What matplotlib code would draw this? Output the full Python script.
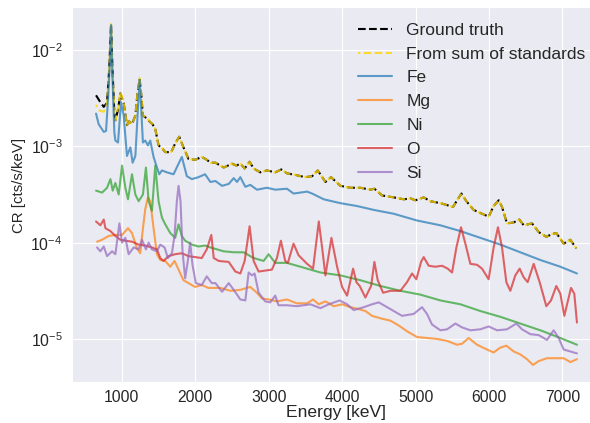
import numpy as np
import matplotlib
matplotlib.use("Agg")
import matplotlib.pyplot as plt
import seaborn as sns

# energies [keV] and log10 count rates
energy_total = [651, 700, 756, 800, 830, 855, 875, 900, 914, 950, 982, 1027, 1072, 1100, 1140,
                1186, 1215, 1244, 1265, 1289, 1343, 1389, 1420, 1457, 1502, 1550, 1593, 1674,
                1728, 1783, 1841, 1909, 2000, 2090, 2160, 2208, 2276, 2389, 2502, 2561, 2615,
                2674, 2741, 2796, 2886, 2977, 3090, 3172, 3249, 3384, 3497, 3592, 3669, 3773,
                3850, 3977, 4113, 4249, 4385, 4440, 4544, 4703, 4839, 4930, 4998, 5111, 5202,
                5338, 5429, 5510, 5565, 5624, 5692, 5791, 5905, 5995, 6063, 6132, 6177, 6245,
                6336, 6413, 6472, 6585, 6676, 6780, 6857, 6916, 7016, 7107, 7188]
truth_log10 = [-2.47, -2.53, -2.59, -2.55, -2.20, -1.73, -2.20, -2.65, -2.73, -2.62, -2.45, -2.55,
               -2.78, -2.74, -2.77, -2.68, -2.45, -2.30, -2.45, -2.68, -2.71, -2.75, -2.77, -2.82,
               -2.99, -3.02, -3.06, -3.06, -2.97, -2.90, -3.01, -3.13, -3.14, -3.11, -3.14, -3.17,
               -3.17, -3.22, -3.18, -3.20, -3.18, -3.23, -3.16, -3.23, -3.27, -3.25, -3.27, -3.24,
               -3.28, -3.30, -3.32, -3.31, -3.25, -3.37, -3.32, -3.41, -3.43, -3.43, -3.45, -3.44,
               -3.51, -3.53, -3.55, -3.54, -3.56, -3.53, -3.57, -3.59, -3.61, -3.63, -3.56, -3.49,
               -3.57, -3.66, -3.70, -3.73, -3.62, -3.56, -3.63, -3.80, -3.79, -3.76, -3.82, -3.80,
               -3.89, -3.94, -3.91, -3.90, -4.01, -3.97, -4.06]
std_sum_log10 = [-2.57, -2.63, -2.64, -2.56, -2.20, -1.73, -2.20, -2.65, -2.73, -2.60, -2.43, -2.55,
                 -2.78, -2.74, -2.77, -2.68, -2.45, -2.29, -2.45, -2.68, -2.70, -2.75, -2.77, -2.82,
                 -2.99, -3.02, -3.06, -3.06, -2.97, -2.90, -3.01, -3.13, -3.14, -3.11, -3.14, -3.17,
                 -3.17, -3.22, -3.18, -3.20, -3.18, -3.23, -3.16, -3.23, -3.27, -3.25, -3.27, -3.24,
                 -3.28, -3.30, -3.32, -3.31, -3.25, -3.37, -3.32, -3.41, -3.43, -3.43, -3.45, -3.44,
                 -3.51, -3.53, -3.55, -3.54, -3.56, -3.53, -3.57, -3.59, -3.61, -3.63, -3.56, -3.49,
                 -3.57, -3.66, -3.70, -3.73, -3.62, -3.56, -3.63, -3.80, -3.79, -3.76, -3.82, -3.80,
                 -3.89, -3.94, -3.91, -3.90, -4.01, -3.97, -4.06]

fe_energy = [651, 687, 756, 787, 815, 835, 855, 875, 900, 914, 950, 991, 1027, 1072, 1118, 1149,
             1186, 1215, 1244, 1265, 1289, 1321, 1357, 1389, 1434, 1480, 1511, 1548, 1615, 1706,
             1774, 1819, 1887, 1955, 2045, 2135, 2208, 2276, 2366, 2457, 2525, 2570, 2615, 2683,
             2751, 2841, 2977, 3090, 3249, 3339, 3433, 3524, 3592, 3751, 3977, 4204, 4431, 4703,
             5020, 5338, 5610, 5882, 6154, 6426, 6698, 6971, 7197]
fe_log10 = [-2.66, -2.77, -2.85, -2.84, -2.50, -2.20, -1.74, -2.30, -2.85, -2.94, -2.96, -2.54,
            -2.68, -3.10, -3.01, -3.17, -3.10, -2.70, -2.31, -2.60, -2.96, -2.94, -2.99, -2.94,
            -3.11, -3.22, -3.29, -3.25, -3.27, -3.29, -3.18, -3.11, -3.31, -3.34, -3.32, -3.29,
            -3.37, -3.36, -3.41, -3.39, -3.33, -3.37, -3.32, -3.42, -3.40, -3.45, -3.43, -3.45,
            -3.44, -3.49, -3.48, -3.47, -3.49, -3.55, -3.59, -3.62, -3.66, -3.70, -3.77, -3.82,
            -3.88, -3.95, -4.02, -4.10, -4.18, -4.25, -4.32]

mg_energy = [665, 733, 824, 914, 1005, 1086, 1140, 1208, 1253, 1285, 1321, 1357, 1389, 1434, 1480,
             1525, 1593, 1661, 1720, 1774, 1841, 1909, 2000, 2090, 2180, 2344, 2480, 2615, 2751,
             2841, 2909, 3000, 3113, 3249, 3384, 3524, 3605, 3683, 3773, 3887, 4000, 4113, 4227,
             4317, 4408, 4544, 4658, 4771, 4884, 5020, 5156, 5293, 5429, 5565, 5633, 5723, 5837,
             5973, 6063, 6154, 6236, 6336, 6426, 6517, 6599, 6676, 6789, 6925, 7016, 7107, 7197]
mg_log10 = [-3.99, -3.97, -3.93, -3.92, -3.92, -3.85, -3.90, -4.06, -4.11, -3.88, -3.65, -3.53,
            -3.57, -3.85, -4.12, -4.18, -4.19, -4.25, -4.19, -4.28, -4.39, -4.42, -4.46, -4.44,
            -4.47, -4.47, -4.50, -4.49, -4.46, -4.52, -4.58, -4.59, -4.61, -4.59, -4.63, -4.63,
            -4.59, -4.64, -4.61, -4.66, -4.64, -4.67, -4.69, -4.71, -4.76, -4.79, -4.81, -4.86,
            -4.92, -4.98, -4.99, -5.00, -5.02, -5.06, -5.05, -4.99, -5.06, -5.11, -5.14, -5.09,
            -5.07, -5.13, -5.16, -5.21, -5.27, -5.23, -5.20, -5.20, -5.20, -5.24, -5.21]

ni_energy = [651, 733, 801, 847, 878, 914, 959, 1005, 1050, 1086, 1140, 1186, 1231, 1289, 1330,
             1367, 1412, 1457, 1502, 1548, 1593, 1661, 1728, 1774, 1819, 1864, 1955, 2045, 2135,
             2208, 2389, 2525, 2660, 2796, 2932, 3000, 3090, 3249, 3433, 3705, 3977, 4249, 4522,
             4794, 5066, 5338, 5610, 5882, 6154, 6426, 6698, 6971, 7197]
ni_log10 = [-3.46, -3.48, -3.43, -3.34, -3.46, -3.38, -3.50, -3.20, -3.43, -3.55, -3.29, -3.50,
            -3.57, -3.50, -3.22, -3.57, -3.67, -3.20, -3.57, -3.74, -3.81, -3.90, -3.95, -3.81,
            -3.93, -3.98, -4.02, -4.04, -4.03, -4.05, -4.09, -4.10, -4.10, -4.16, -4.19, -4.12,
            -4.21, -4.21, -4.25, -4.31, -4.34, -4.39, -4.45, -4.50, -4.54, -4.60, -4.64, -4.71,
            -4.77, -4.84, -4.91, -4.99, -5.06]

o_energy = [651, 710, 756, 778, 847, 914, 982, 1050, 1140, 1231, 1321, 1412, 1480, 1525, 1570,
            1638, 1728, 1819, 1909, 2000, 2090, 2158, 2220, 2253, 2321, 2457, 2547, 2615, 2674,
            2741, 2796, 2864, 2954, 3045, 3113, 3167, 3226, 3262, 3339, 3407, 3524, 3605, 3683,
            3728, 3773, 3855, 3932, 4000, 4068, 4150, 4195, 4240, 4317, 4395, 4440, 4485, 4558,
            4658, 4794, 4884, 4952, 5011, 5075, 5111, 5179, 5270, 5361, 5438, 5497, 5556, 5619,
            5678, 5746, 5837, 5905, 5995, 6063, 6122, 6177, 6236, 6290, 6358, 6417, 6472, 6526,
            6608, 6689, 6780, 6844, 6916, 6971, 7025, 7116, 7161, 7197]
o_log10 = [-3.78, -3.82, -3.76, -3.85, -3.88, -3.93, -3.97, -3.98, -3.99, -4.02, -4.03, -4.05,
           -4.07, -4.16, -4.19, -4.14, -4.12, -4.11, -4.14, -4.15, -4.16, -4.07, -3.92, -4.16,
           -4.19, -4.20, -4.30, -4.32, -4.19, -3.83, -4.19, -4.30, -4.29, -4.28, -4.16, -3.98,
           -4.19, -4.21, -4.01, -4.13, -4.22, -4.27, -3.78, -4.05, -4.34, -3.95, -4.25, -4.46,
           -4.55, -4.27, -4.41, -4.45, -4.57, -4.45, -4.20, -4.39, -4.52, -4.50, -4.50, -4.41,
           -4.32, -4.38, -4.20, -4.15, -4.24, -4.25, -4.24, -4.27, -4.31, -4.05, -3.84, -4.01,
           -4.22, -4.23, -4.27, -4.38, -4.05, -3.84, -4.05, -4.41, -4.50, -4.34, -4.27, -4.36,
           -4.41, -4.22, -4.41, -4.66, -4.60, -4.45, -4.53, -4.76, -4.47, -4.53, -4.83]

si_energy = [665, 710, 756, 801, 869, 914, 969, 1005, 1050, 1095, 1163, 1231, 1276, 1330, 1367,
             1412, 1480, 1525, 1584, 1629, 1684, 1720, 1751, 1774, 1801, 1828, 1864, 1900, 1932,
             1964, 2009, 2090, 2158, 2226, 2276, 2366, 2457, 2525, 2615, 2683, 2728, 2773, 2809,
             2864, 2954, 3022, 3090, 3135, 3249, 3384, 3569, 3705, 3819, 3968, 4068, 4159, 4295,
             4408, 4499, 4590, 4703, 4816, 4975, 5088, 5156, 5224, 5338, 5429, 5542, 5633, 5746,
             5882, 5995, 6109, 6245, 6372, 6449, 6562, 6676, 6789, 6880, 6948, 7016, 7107, 7197]
si_log10 = [-4.05, -4.09, -4.04, -4.14, -4.09, -4.12, -3.80, -4.00, -3.95, -4.12, -4.05, -4.07,
            -3.97, -4.07, -4.00, -4.07, -4.09, -4.02, -4.05, -4.16, -4.11, -3.92, -3.57, -3.41,
            -3.57, -4.09, -4.37, -4.19, -4.00, -4.23, -4.42, -4.44, -4.35, -4.42, -4.42, -4.51,
            -4.42, -4.49, -4.59, -4.60, -4.31, -4.34, -4.32, -4.52, -4.61, -4.62, -4.55, -4.65,
            -4.65, -4.66, -4.64, -4.68, -4.64, -4.60, -4.64, -4.70, -4.67, -4.64, -4.62, -4.66,
            -4.71, -4.76, -4.74, -4.67, -4.74, -4.85, -4.91, -4.90, -4.84, -4.88, -4.91, -4.90,
            -4.87, -4.91, -4.90, -4.84, -4.90, -4.95, -4.96, -5.01, -4.91, -4.99, -5.11, -5.13,
            -5.15]

elements = ["Fe", "Mg", "Ni", "O", "Si"]
element_energy = [fe_energy, mg_energy, ni_energy, o_energy, si_energy]
element_log10 = [fe_log10, mg_log10, ni_log10, o_log10, si_log10]


sns.set_style("darkgrid")
plt.rcParams["font.family"] = ["Liberation Sans", "DejaVu Sans"]

fig = plt.figure(figsize=(5.9, 4.23), dpi=100)
# the axes runs a little past the right edge of the image, as in the original
ax = fig.add_axes([72 / 590, 41 / 423, 529 / 590, 375 / 423])

ax.plot(energy_total, 10 ** np.array(truth_log10), color="black", ls="--", lw=1.5,
        label="Ground truth")
ax.plot(energy_total, 10 ** np.array(std_sum_log10), color="gold", ls=(2.6, (3.7, 1.6)),
        lw=1.5, alpha=0.8, label="From sum of standards")

for name, e, v in zip(elements, element_energy, element_log10):
    ax.plot(e, 10 ** np.array(v), lw=1.5, alpha=0.7, label=name)

ax.set_yscale("log")
ax.set_xlabel("Energy [keV]", fontsize=12.6, labelpad=0)
ax.set_ylabel("CR [cts/s/keV]", fontsize=10.8)
ax.yaxis.set_label_coords(-0.087, 0.525)
ax.tick_params(labelsize=11.3)
ax.tick_params(axis="x", pad=2)

ax.legend(loc="upper right", frameon=False, fontsize=12.5)

fig.savefig("out.png", dpi=100)
